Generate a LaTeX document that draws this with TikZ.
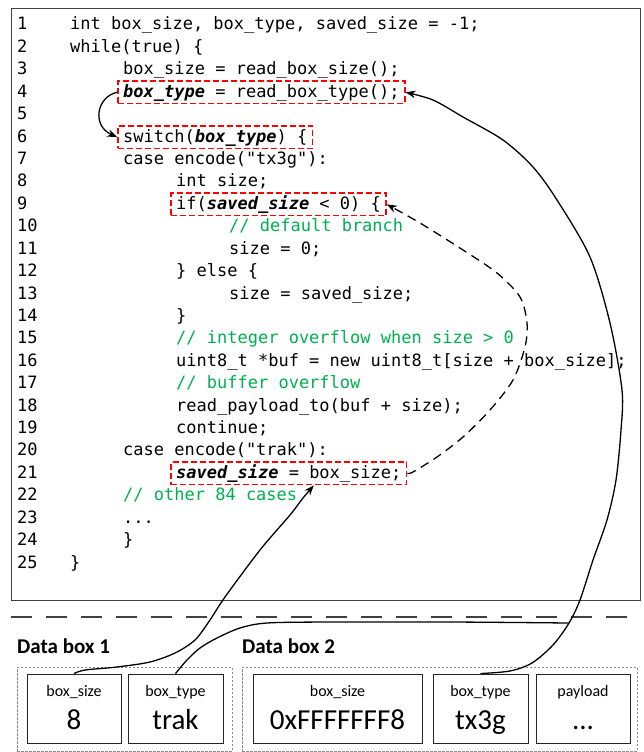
\documentclass[tikz,border=0pt]{standalone}
\usepackage{fontspec}
\setmainfont{Carlito}
\newfontfamily\codefont{DejaVu Sans Mono}
\usepackage{xcolor}
\usetikzlibrary{arrows.meta,positioning,fit,calc}
\definecolor{cmtgreen}{RGB}{0,176,80}
\definecolor{hlred}{RGB}{255,0,0}
\definecolor{framegray}{RGB}{64,64,64}
\newcommand{\hvar}[1]{\textbf{\textit{#1}}}
\frenchspacing

\begin{document}
\begin{tikzpicture}[x=1pt, y=-1pt,
    lnum/.style={anchor=base west, inner sep=0, font=\codefont\fontsize{17}{20}\selectfont},
    codeln/.style={anchor=base west, inner sep=0, text height=14pt, text depth=4pt,
                   font=\codefont\fontsize{17}{20}\selectfont},
    cmt/.style={codeln, text=cmtgreen},
    hlbox/.style={draw=hlred, line width=1.6pt, dash pattern=on 6pt off 3pt,
                  inner xsep=5pt, inner ysep=2pt},
    link/.style={-{Stealth[length=10pt,width=7.5pt]}, line width=1.3pt},
    plain/.style={line width=1.3pt},
    fieldbox/.style={draw=black!85, line width=0.9pt, minimum height=69pt, inner sep=0},
    fname/.style={anchor=base, inner sep=0, font=\fontsize{16}{18}\selectfont},
    fval/.style={anchor=base, inner sep=0, font=\fontsize{29}{32}\selectfont},
    dbox/.style={draw=black!45, line width=0.8pt, dash pattern=on 2.5pt off 1.5pt,
                 anchor=north west, minimum height=84pt, inner sep=0},
    dtitle/.style={anchor=base west, inner sep=0, font=\bfseries\fontsize{21}{24}\selectfont}
]
\useasboundingbox (0,0) rectangle (644,752);

% Code frame
\node[draw=framegray, line width=1pt, anchor=north west, minimum width=629pt,
      minimum height=592pt, inner sep=0] (frame) at (11,8) {};

% Line numbers
\foreach \i in {1,...,25}
    \node[lnum] (n\i) at (17, {30+(\i-1)*22.42}) {\i};

% Code lines
\node[codeln] (c1) at (70,0 |- n1.base) {int box\_size, box\_type, saved\_size = -1;};
\node[codeln] (c2) at (70,0 |- n2.base) {while(true) \{};
\node[codeln] (c3) at (123,0 |- n3.base) {box\_size = read\_box\_size();};
\node[codeln] (c4) at (123,0 |- n4.base) {\hvar{box\_type} = read\_box\_type();};
\node[codeln] (c6) at (123,0 |- n6.base) {switch(\hvar{box\_type}) \{};
\node[codeln] (c7) at (123,0 |- n7.base) {case encode("tx3g"):};
\node[codeln] (c8) at (176,0 |- n8.base) {int size;};
\node[codeln] (c9) at (176,0 |- n9.base) {if(\hvar{saved\_size} < 0) \{};
\node[cmt]    (c10) at (229,0 |- n10.base) {// default branch};
\node[codeln] (c11) at (229,0 |- n11.base) {size = 0;};
\node[codeln] (c12) at (176,0 |- n12.base) {\} else \{};
\node[codeln] (c13) at (229,0 |- n13.base) {size = saved\_size;};
\node[codeln] (c14) at (176,0 |- n14.base) {\}};
\node[cmt]    (c15) at (176,0 |- n15.base) {// integer overflow when size > 0};
\node[codeln] (c16) at (176,0 |- n16.base) {uint8\_t *buf = new uint8\_t[size + box\_size];};
\node[cmt]    (c17) at (176,0 |- n17.base) {// buffer overflow};
\node[codeln] (c18) at (176,0 |- n18.base) {read\_payload\_to(buf + size);};
\node[codeln] (c19) at (176,0 |- n19.base) {continue;};
\node[codeln] (c20) at (123,0 |- n20.base) {case encode("trak"):};
\node[codeln] (c21) at (176,0 |- n21.base) {\hvar{saved\_size} = box\_size;};
\node[cmt]    (c22) at (123,0 |- n22.base) {// other 84 cases};
\node[codeln] (c23) at (123,0 |- n23.base) {...};
\node[codeln] (c24) at (123,0 |- n24.base) {\}};
\node[codeln] (c25) at (70,0 |- n25.base) {\}};

% Highlighted statements
\node[hlbox, fit=(c4)] (h4) {};
\node[hlbox, fit=(c6)] (h6) {};
\node[hlbox, fit=(c9)] (h9) {};
\node[hlbox, fit=(c21)] (h21) {};

% Separator
\draw[black!75, line width=1.2pt, dash pattern=on 21pt off 14pt] (11,617) -- (640,617);

% Data boxes
\node[dtitle] (t1) at (17,653) {Data box 1};
\node[dtitle] (t2) at (242,653) {Data box 2};
\node[dbox, minimum width=215pt] (db1) at (17,667) {};
\node[dbox, minimum width=395pt] (db2) at (242,667) {};

\node[fieldbox, minimum width=94pt]  (bs1) at (74,708.5) {};
\node[fieldbox, minimum width=95pt]  (tb1) at (175.5,708.5) {};
\node[fieldbox, minimum width=169pt] (bs2) at (337.5,708.5) {};
\node[fieldbox, minimum width=95pt]  (tb2) at (480.5,708.5) {};
\node[fieldbox, minimum width=94pt]  (pl2) at (583,708.5) {};

\node[fname] (bs1n) at ($(bs1.north)+(0,23)$) {box\_size};
\node[fval]  (bs1v) at ($(bs1.north)+(0,56)$) {8};
\node[fname] (tb1n) at ($(tb1.north)+(0,23)$) {box\_type};
\node[fval]  (tb1v) at ($(tb1.north)+(0,56)$) {trak};
\node[fname] (bs2n) at ($(bs2.north)+(0,23)$) {box\_size};
\node[fval]  (bs2v) at ($(bs2.north)+(0,56)$) {0xFFFFFFF8};
\node[fname] (tb2n) at ($(tb2.north)+(0,23)$) {box\_type};
\node[fval]  (tb2v) at ($(tb2.north)+(0,56)$) {tx3g};
\node[fname] (pl2n) at ($(pl2.north)+(0,23)$) {payload};
\node[fval]  (pl2v) at ($(pl2.north)+(0,56)$) {...};

% Connectors
\coordinate (join) at (569,623);
\draw[link] (h4.west) .. controls (96,97) and (92,126) .. (h6.west);
\draw[link] plot[smooth] coordinates {(tb2.north) (510,671) (532,663) (553,645) (join)
    (580,600) (593,560) (607,520) (616,480) (621,430) (622,390) (610,323) (590,257)
    (557,200) (533,167) (503,140) (463,117) (433,100) (h4.east)};
\draw[plain] plot[smooth] coordinates {(tb1.north) (187,660) (200,648) (217,638)
    (240,628) (267,623) (330,622) (450,622) (join)};
\draw[link] plot[smooth] coordinates {(bs1.north) (85,670) (117,667) (150,662)
    (175,653) (195,640) (210,620) (225,597) (260,550) (290,515) (303,498)
    ([xshift=25pt]h21.south)};
\draw[link, dash pattern=on 9pt off 6pt] plot[smooth] coordinates {(h21.east) (413,472)
    (437,457) (463,437) (490,410) (513,380) (525,347) (527,323) (520,297) (497,273)
    (463,250) (420,223) (h9.east)};

\end{tikzpicture}
\end{document}
